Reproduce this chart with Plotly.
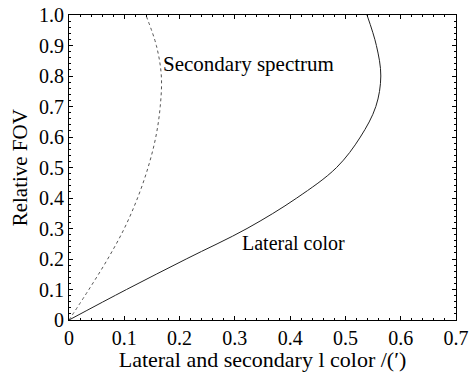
import plotly.graph_objects as go

lateral_fov = [0.0, 0.1, 0.2, 0.3, 0.4, 0.5, 0.6, 0.7, 0.8, 0.9, 1.0]
lateral_color = [0.0, 0.104, 0.212, 0.322, 0.412, 0.484, 0.527, 0.555, 0.564, 0.556, 0.539]

secondary_fov = [0.0, 0.1, 0.2, 0.3, 0.4, 0.5, 0.6, 0.7, 0.8, 0.9, 1.0]
secondary_spectrum = [0.0, 0.036, 0.070, 0.100, 0.124, 0.143, 0.157, 0.165, 0.167, 0.158, 0.139]

x_ticks = [0, 0.1, 0.2, 0.3, 0.4, 0.5, 0.6, 0.7]
x_labels = ["0", "0.1", "0.2", "0.3", "0.4", "0.5", "0.6", "0.7"]
y_ticks = [0, 0.1, 0.2, 0.3, 0.4, 0.5, 0.6, 0.7, 0.8, 0.9, 1.0]
y_labels = ["0", "0.1", "0.2", "0.3", "0.4", "0.5", "0.6", "0.7", "0.8", "0.9", "1.0"]

FONT = "Liberation Serif, DejaVu Serif, serif"

fig = go.Figure()
fig.add_trace(go.Scatter(x=secondary_spectrum, y=secondary_fov, mode="lines",
                         line=dict(color="#555555", width=1, dash="dot", shape="spline", smoothing=1.0),
                         showlegend=False))
fig.add_trace(go.Scatter(x=lateral_color, y=lateral_fov, mode="lines",
                         line=dict(color="#222222", width=1, shape="spline", smoothing=1.0),
                         showlegend=False))

fig.add_annotation(x=0.166, y=0.841, text="Secondary spectrum", showarrow=False,
                   xanchor="left", yanchor="middle", font=dict(family=FONT, size=21, color="black"))
fig.add_annotation(x=0.309, y=0.254, text="Lateral color", showarrow=False,
                   xanchor="left", yanchor="middle", font=dict(family=FONT, size=20, color="black"))
# y-axis title placed as a rotated annotation
fig.add_annotation(x=-0.127, y=0.5, xref="paper", yref="paper", text="Relative FOV",
                   showarrow=False, textangle=-90, xanchor="center", yanchor="middle",
                   font=dict(family=FONT, size=21, color="black"))

axis_common = dict(showgrid=False, zeroline=False, showline=True, linecolor="black", linewidth=1,
                   mirror="allticks", ticks="inside", ticklen=4, tickcolor="black", tickwidth=1,
                   tickfont=dict(family=FONT, size=20, color="black"), automargin=False,
                   minor=dict(ticks="inside", ticklen=2, tickcolor="black", tickwidth=1))

fig.update_xaxes(range=[0, 0.7], tickvals=x_ticks, ticktext=x_labels,
                 title=dict(text="Lateral and secondary l color /(′)",
                            font=dict(family=FONT, size=22, color="black")),
                 **axis_common)
fig.update_xaxes(minor_dtick=0.02)
fig.update_yaxes(range=[0, 1.0], tickvals=y_ticks, ticktext=y_labels, **axis_common)
fig.update_yaxes(minor_dtick=0.02)

fig.update_layout(width=470, height=372, margin=dict(l=69, r=14, t=15, b=52),
                  plot_bgcolor="white", paper_bgcolor="white")

fig.write_html("out.html")
